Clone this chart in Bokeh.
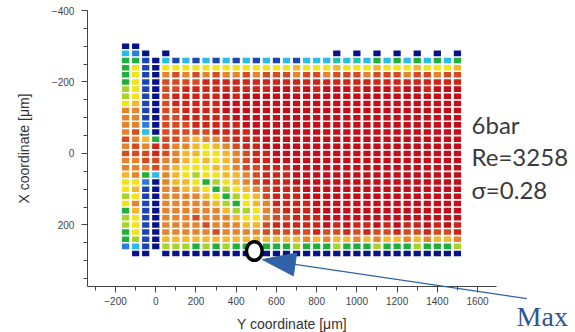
import math
from bokeh.plotting import figure
from bokeh.models import (Range1d, Label, Arrow, ColumnDataSource,
                          SingleIntervalTicker)
from bokeh.embed import file_html
from bokeh.resources import INLINE

# Measurement grid: columns along the Y coordinate, rows along the X coordinate (µm)
y_coord = [-150, -100, -50, 0, 50, 100, 150, 200, 250, 300, 350, 400, 450, 500,
           550, 600, 650, 700, 750, 800, 850, 900, 950, 1000, 1050, 1100, 1150,
           1200, 1250, 1300, 1350, 1400, 1450, 1500]
x_coord = [-300, -280, -260, -240, -220, -200, -180, -160, -140, -120, -100, -80,
           -60, -40, -20, 0, 20, 40, 60, 80, 100, 120, 140, 160, 180, 200, 220,
           240, 260, 280]

# Colour level per cell (0 = lowest .. c = highest, '.' = no data), one string per row
level_rows = [
    "00.." "............" "..................",
    "320." "0..........." ".....0.0.0.0.0.0.0",
    "5510" "313131313131" "313334343535353535",
    "5710" "777777777777" "787778777877787778",
    "5710" "9a9a9a99a9aa" "a9aa9aaa9aaa9aa9aa",
    "5710" "aaaabbbbbbbb" "bbbbbbbbbbbbbbbbbb",
    "6710" "aabbbbbbbbbc" "cbcbcccbcccbccbccc",
    "6710" "abbbbbcbcccc" "cccccccccccccccccc",
    "7810" "abbbbbcccccc" "cccccccccccccccccc",
    "9910" "aabbbbcccccc" "cccccccccccccccccc",
    "9910" "aabbbbbccccc" "cccccccccccccccccc",
    "9920" "aaabbbbbcccc" "cccccccccccccccccc",
    "9a30" "aaaaabbbbccc" "cccccccccccccccccc",
    "a985" "aa9899abbbcc" "cccccccccccccccccc",
    "9a9b" "a998789abbcc" "cccccccccccccccccc",
    "aaab" "a9887789abbc" "cccccccccccccccccc",
    "99aa" "99878789abbc" "cccccccccccccccccc",
    "999a" "98777889aabb" "bccccccccccccccccc",
    "8953" "987677889abb" "bccccccccccccccccc",
    "7720" "988756789abb" "bccccccccccccccccc",
    "7810" "9988756789ab" "bbcccccccccccccccc",
    "6710" "9999875678ab" "bbcccccccccccccccc",
    "7910" "99999865789b" "bbbccccccccccccccc",
    "5810" "99999986679a" "bbbccccccccccccccc",
    "6710" "999a9998779a" "abbbcccccccccccccc",
    "6710" "9999a99988ab" "bbbbcbcbbcbcbbcbcb",
    "5710" "99999a9999aa" "aaabaababaabaabaab",
    "5610" "888888888888" "889898898988989889",
    "2310" "666565655655" "565556555655565556",
    ".00." "000000000000" "000000000000000000",
]

# Jet-like palette for the levels 0..c
palette = {
    "0": "#07118a", "1": "#1b45b5", "2": "#2a7ed8", "3": "#27bde8",
    "4": "#22c3a8", "5": "#1fb03a", "6": "#a8d42a", "7": "#f3e31c",
    "8": "#f4b62a", "9": "#e6832d", "a": "#d64a22", "b": "#cd2619",
    "c": "#c30f19",
}

# Location of the maximum and the annotation texts
max_y, max_x = 490, 273
arrow_tail_y, arrow_tail_x = 1845, 406
arrow_tip_y, arrow_tip_x = 530, 297
condition_lines = ["6bar", "Re=3258", "\u03c3=0.28"]
condition_baselines = [-80, 9, 101]
condition_left = 1570
max_label = "Max"
max_label_pos = (1794, 455)

cell_x, cell_y, cell_c = [], [], []
for r, row in enumerate(level_rows):
    for k, ch in enumerate(row):
        if ch == ".":
            continue
        cell_x.append(y_coord[k])
        cell_y.append(x_coord[r])
        cell_c.append(palette[ch])
src = ColumnDataSource(dict(x=cell_x, y=cell_y, color=cell_c))

W, H = 575, 332
X0, X1 = -772, 2087
Y_BOTTOM, Y_TOP = 501, -428
axis_x_bounds = (-340, 1695)
axis_y_bounds = (-400, 372)

p = figure(width=W, height=H, x_range=Range1d(X0, X1),
           y_range=Range1d(Y_BOTTOM, Y_TOP),
           output_backend="svg", toolbar_location=None,
           min_border=0, min_border_left=0, min_border_right=0,
           min_border_top=0, min_border_bottom=0)
p.xgrid.visible = False
p.ygrid.visible = False
p.outline_line_color = None
p.background_fill_color = "white"
p.border_fill_color = "white"

p.rect(x="x", y="y", width=36, height=15.5, fill_color="color",
       line_color=None, source=src)

# Circle marking the maximum
p.ellipse(x=[max_y], y=[max_x], width=78, height=52, fill_color="white",
          line_color="black", line_width=3.5)

# Arrow: thin shaft plus a filled triangular head
px_x = W / (X1 - X0)
px_y = H / (Y_BOTTOM - Y_TOP)
dx = (arrow_tip_y - arrow_tail_y) * px_x
dy = (arrow_tip_x - arrow_tail_x) * px_y
L = math.hypot(dx, dy)
ux, uy = dx / L, dy / L
head_len, head_w = 33, 23
bx, by = -ux * head_len, -uy * head_len
nx, ny = -uy * head_w / 2, ux * head_w / 2
base_y = arrow_tip_y + bx / px_x
base_x = arrow_tip_x + by / px_y
head_xs = [arrow_tip_y, arrow_tip_y + (bx + nx) / px_x, arrow_tip_y + (bx - nx) / px_x]
head_ys = [arrow_tip_x, arrow_tip_x + (by + ny) / px_y, arrow_tip_x + (by - ny) / px_y]
arrow_color = "#2f62a6"
p.add_layout(Arrow(end=None, x_start=arrow_tail_y, y_start=arrow_tail_x,
                   x_end=base_y, y_end=base_x, line_color=arrow_color,
                   line_width=1.2))
p.patch(head_xs, head_ys, fill_color=arrow_color, line_color=arrow_color)

for txt, yb in zip(condition_lines, condition_baselines):
    p.add_layout(Label(x=condition_left, y=yb, text=txt, text_font="Lato",
                       text_font_size="24px", text_color="#3a3a3a",
                       text_baseline="alphabetic"))
p.add_layout(Label(x=max_label_pos[0], y=max_label_pos[1], text=max_label,
                   text_font="Liberation Serif", text_font_size="28px",
                   text_color="#2f5597", text_baseline="alphabetic"))

# Axes drawn at fixed positions inside the full-size frame
p.xaxis.fixed_location = axis_y_bounds[1]
p.xaxis.bounds = axis_x_bounds
p.yaxis.fixed_location = axis_x_bounds[0]
p.yaxis.bounds = axis_y_bounds
p.xaxis.ticker = SingleIntervalTicker(interval=200, num_minor_ticks=2)
p.yaxis.ticker = SingleIntervalTicker(interval=200, num_minor_ticks=4)
p.xaxis.axis_label = "Y coordinate [\u03bcm]"
p.yaxis.axis_label = "X coordinate [\u03bcm]"
for ax in (p.xaxis, p.yaxis):
    ax.axis_line_color = "#444444"
    ax.major_tick_line_color = "#444444"
    ax.minor_tick_line_color = "#444444"
    ax.major_tick_in = 0
    ax.major_tick_out = 6
    ax.minor_tick_in = 0
    ax.minor_tick_out = 4
    ax.major_label_text_font = "Liberation Sans"
    ax.major_label_text_font_size = "10px"
    ax.major_label_text_color = "#444444"
    ax.axis_label_text_font = "Liberation Sans"
    ax.axis_label_text_font_size = "14px"
    ax.axis_label_text_font_style = "normal"
    ax.axis_label_text_color = "#333333"
p.xaxis.major_label_standoff = 5
p.xaxis.axis_label_standoff = 7
p.yaxis.major_label_standoff = 7
p.yaxis.axis_label_standoff = 17

open("out.html", "w").write(file_html(p, INLINE))
